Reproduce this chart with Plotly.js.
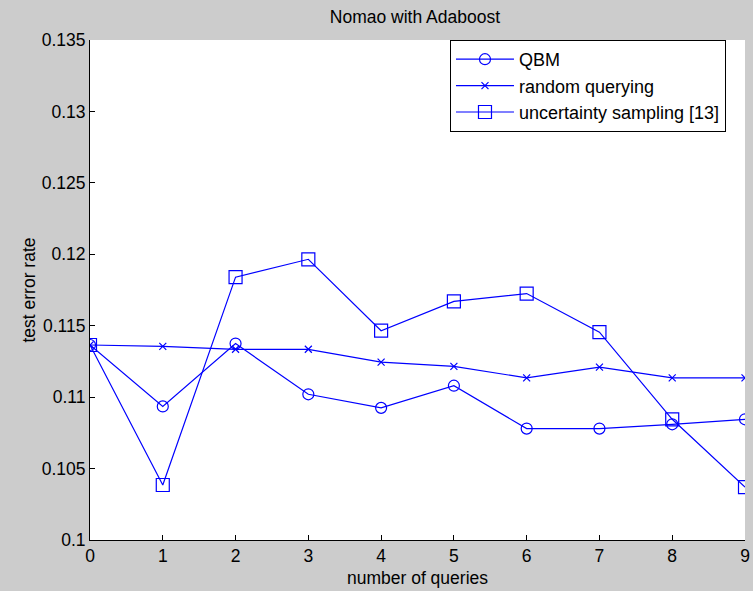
<!DOCTYPE html>
<html>
<head>
<meta charset="utf-8">
<script src="https://cdn.plot.ly/plotly-3.0.1.min.js"></script>
<style>html,body{margin:0;padding:0;background:#cccccc;}#chart{width:753px;height:591px;}</style>
</head>
<body>
<div id="chart"></div>
<script>
const queries = [0, 1, 2, 3, 4, 5, 6, 7, 8, 9];
const qbm = [0.11365, 0.10935, 0.11375, 0.11020, 0.10925, 0.11080, 0.10780, 0.10780, 0.10810, 0.10845];
const randomQuerying = [0.11365, 0.11355, 0.11335, 0.11335, 0.11245, 0.11215, 0.11135, 0.11210, 0.11135, 0.11135];
const uncertainty = [0.11365, 0.10385, 0.11840, 0.11965, 0.11465, 0.11670, 0.11725, 0.11455, 0.10845, 0.10370];
const yTickVals = [0.1, 0.105, 0.11, 0.115, 0.12, 0.125, 0.13, 0.135];
const yTickText = ['0.1', '0.105', '0.11', '0.115', '0.12', '0.125', '0.13', '0.135'];
const xTickVals = [0, 1, 2, 3, 4, 5, 6, 7, 8, 9];

const blue = '#0000ff';
const traces = [
  {x: queries, y: qbm, name: 'QBM', mode: 'lines+markers', type: 'scatter', legendgroup: 'a',
   line: {color: blue, width: 1.2}, marker: {symbol: 'circle-open', size: 11, color: blue, line: {width: 1.2, color: blue}}},
  {x: queries, y: randomQuerying, name: 'random querying', mode: 'lines+markers', type: 'scatter', legendgroup: 'b',
   line: {color: blue, width: 1.2}, marker: {symbol: 'x-thin-open', size: 7, color: blue, line: {width: 1.2, color: blue}}},
  {x: queries, y: uncertainty, name: 'uncertainty sampling [13]', mode: 'lines+markers', type: 'scatter', legendgroup: 'c',
   line: {color: blue, width: 1.2}, marker: {symbol: 'square-open', size: 13, color: blue, line: {width: 1.2, color: blue}}}
];

const ff = 'Liberation Sans, Arial, sans-serif';
const font = {family: ff, size: 17.5, color: '#000000'};
const layout = {
  width: 753, height: 591,
  margin: {l: 90, r: 8, t: 40, b: 51},
  paper_bgcolor: '#cccccc',
  plot_bgcolor: '#ffffff',
  font: font,
  showlegend: true,
  title: {text: 'Nomao with Adaboost', x: 0.551, xanchor: 'center', y: 0.971, yanchor: 'middle', font: {family: ff, size: 17.5, color: '#000'}},
  xaxis: {
    range: [0, 9], tickvals: xTickVals, ticks: 'inside', ticklen: 5, tickcolor: '#000',
    showline: true, linecolor: '#000', linewidth: 1, mirror: false, showgrid: false, zeroline: false,
    title: {text: 'number of queries', font: font, standoff: 6}, tickfont: font
  },
  yaxis: {
    range: [0.1, 0.135], tickvals: yTickVals, ticktext: yTickText, ticks: 'inside', ticklen: 5, tickcolor: '#000',
    showline: true, linecolor: '#000', linewidth: 1, mirror: false, showgrid: false, zeroline: false,
    title: {text: 'test error rate', font: font, standoff: 1}, tickfont: font
  },
  legend: {
    x: 0.5496, y: 1, xanchor: 'left', yanchor: 'top', traceorder: 'grouped',
    bgcolor: '#ffffff', bordercolor: '#000000', borderwidth: 1,
    font: {family: ff, size: 18, color: '#000'}, tracegroupgap: 0, itemwidth: 58
  }
};
Plotly.newPlot('chart', traces, layout, {displayModeBar: false, staticPlot: true});
</script>
</body>
</html>
